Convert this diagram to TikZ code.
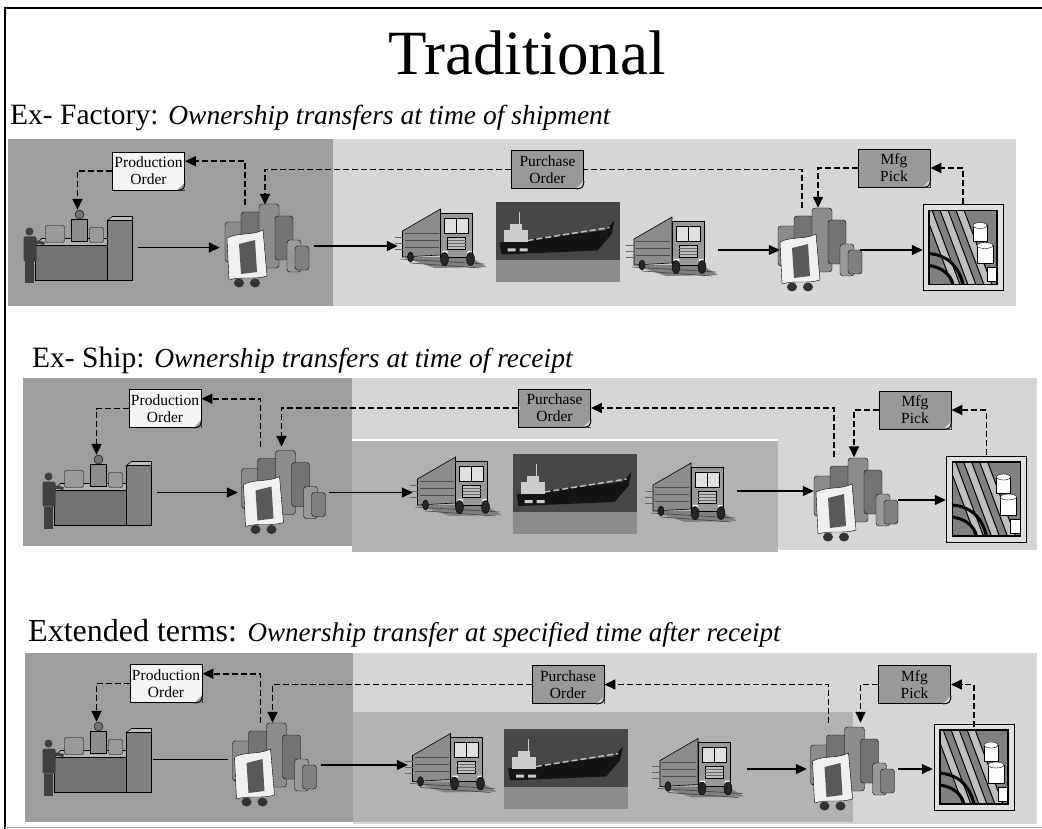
\documentclass[tikz,border=0pt]{standalone}
\usepackage{fontspec}
\setmainfont{Liberation Serif}
\usetikzlibrary{arrows.meta, positioning, calc}

\definecolor{darkpanel}{gray}{0.62}
\definecolor{midpanel}{gray}{0.70}
\definecolor{lightpanel}{gray}{0.84}
\definecolor{docgray}{gray}{0.60}
\definecolor{docwhite}{gray}{0.96}

% folded corner of a document box
\newcommand{\docfold}[2]{%
  \fill[#2] ([xshift=-8pt]#1.south east) -- (#1.south east) -- ([yshift=8pt]#1.south east) -- cycle;
  \draw[line width=1pt] ([xshift=-8pt]#1.south east) .. controls ([xshift=-1pt,yshift=1pt]#1.south east) .. ([yshift=8pt]#1.south east);}

\begin{document}
\begin{tikzpicture}[x=1pt, y=-1pt,
    flow/.style={line width=1.4pt, shorten <=4pt, -{Triangle[length=11pt,width=10pt]}},
    link/.style={line width=1.6pt, dash pattern=on 6pt off 3pt},
    linkto/.style={link, -{Triangle[length=11pt,width=10pt]}},
    doc/.style={draw, line width=0.9pt, fill=#1, inner sep=0pt, minimum width=72pt,
      minimum height=38pt, align=center, font=\fontsize{15.5}{17}\selectfont},
    icon/.style 2 args={minimum width=#1, minimum height=#2, inner sep=0pt},
    % supplier plant
    factory/.pic={
      \filldraw[fill=black!55, line width=0.6pt] (-42,-2) rectangle (38,33);
      \filldraw[fill=black!30, line width=0.6pt] (-42,-2) -- (-36,-9) -- (32,-9) -- (38,-2) -- cycle;
      \filldraw[fill=black!50, line width=0.6pt] (30,-27) rectangle (55,33);
      \filldraw[fill=black!25, line width=0.6pt] (30,-27) -- (35,-31) -- (55,-31) -- (55,-27) -- cycle;
      \filldraw[fill=black!40, rounded corners=2pt] (-32,-22) rectangle (-13,-5);
      \filldraw[fill=black!40, rounded corners=2pt] (12,-20) rectangle (26,-5);
      \filldraw[fill=black!45] (-6,-28) rectangle (10,-6);
      \filldraw[fill=black!55] (2,-33) circle (4.5pt);
      \fill[black!75] (-48,-16) circle (4pt);
      \fill[black!75, rounded corners=1.5pt] (-54,-11) rectangle (-41,14);
      \fill[black!75] (-53,14) rectangle (-44,36);
      \draw[black!75, line width=3pt] (-43,-6) -- (-33,-4);
    },
    % stock of goods
    stock/.pic={
      \filldraw[fill=black!45, rounded corners=3pt] (-40,-24) rectangle (-20,16);
      \filldraw[fill=black!55, rounded corners=3pt] (-24,-34) rectangle (-4,8);
      \filldraw[fill=black!45, rounded corners=3pt] (-6,-42) rectangle (14,22);
      \filldraw[fill=black!55, rounded corners=3pt] (10,-30) rectangle (28,14);
      \filldraw[fill=black!40, rounded corners=3pt] (22,-6) rectangle (36,26);
      \filldraw[fill=black!50, rounded corners=3pt] (30,0) rectangle (44,24);
      \filldraw[fill=black!6] (-38,-8) .. controls (-26,-14) and (-14,-10) .. (-2,-16)
        -- (2,30) .. controls (-10,34) and (-24,30) .. (-36,34) -- cycle;
      \fill[black!65] (-26,-2) -- (-10,-6) -- (-8,26) -- (-24,28) -- cycle;
      \fill[black!80] (-26,37) ellipse (5pt and 4.5pt) (-10,37) ellipse (5pt and 4.5pt);
    },
    % truck
    truck/.pic={
      \fill[black!50] (-38,20) -- (30,20) -- (46,30) -- (-6,31) -- cycle;
      \draw[black!75, line width=0.6pt] (-40,22) -- (44,27) (-30,26) -- (40,31);
      \filldraw[fill=black!45, line width=0.6pt] (-38,-6) -- (0,-28) -- (0,18) -- (-38,20) -- cycle;
      \foreach \v in {-4,3,10} \draw[black!70] (-36,\v) -- (-2,\v);
      \foreach \v in {0,6,12} \draw[black!60] (-46,\v) -- (-38,\v);
      \filldraw[fill=black!40, line width=0.6pt] (0,-24) rectangle (32,20);
      \filldraw[fill=black!12] (4,-19) rectangle (28,-4);
      \draw (16,-19) -- (16,-4);
      \filldraw[fill=black!25] (7,0) rectangle (25,12);
      \foreach \v in {3,6,9} \draw[black!60] (7,\v) -- (25,\v);
      \fill[white] (2,14) rectangle (7,17) (27,14) rectangle (31,17);
      \filldraw[fill=black!85] (4,22) ellipse (4pt and 6.5pt);
      \filldraw[fill=black!85] (30,22) ellipse (4pt and 6.5pt);
      \filldraw[fill=black!85] (-30,20) ellipse (3pt and 5pt);
    },
    % ship at sea
    ship/.pic={
      \fill[black!72] (-62,-40) rectangle (62,40);
      \fill[black!45] (-62,18) rectangle (62,40);
      \fill[black!92] (-58,0) -- (48,-12) -- (57,-22) -- (54,-8) -- (40,8) -- (-56,12) -- cycle;
      \draw[black!25, line width=1.5pt, dash pattern=on 6pt off 3pt] (-30,-2) -- (52,-15);
      \fill[black!20] (-54,-12) rectangle (-30,0);
      \fill[black!20] (-48,-18) rectangle (-36,-12);
      \draw[black!20, line width=1pt] (-38,-18) -- (-38,-30);
      \fill[black!20] (-50,6) rectangle (-42,9) (-38,6) rectangle (-30,9);
    },
    % manufacturing line
    glass/.pic={
      \filldraw[fill=black!12, line width=1pt] (-40,-43) rectangle (40,43);
      \begin{scope}
        \clip (-34,-37) rectangle (34,37);
        \fill[black!50] (-34,-37) rectangle (34,37);
        \foreach \s in {-40,-24,-8}
          \filldraw[fill=black!25, line width=1pt] (\s,-40) -- (\s+8,-40) -- (\s+38,40) -- (\s+30,40) -- cycle;
        \draw[line width=3pt] (-34,6) .. controls (-14,8) and (-4,20) .. (0,37);
        \draw[line width=3pt] (-34,18) .. controls (-20,20) and (-12,28) .. (-10,37);
        \filldraw[fill=white] (10,-22) rectangle (24,-6);
        \filldraw[fill=white] (17,-22) ellipse (7pt and 3pt);
        \filldraw[fill=white] (14,-2) rectangle (30,16);
        \filldraw[fill=white] (22,-2) ellipse (8pt and 3pt);
        \filldraw[fill=white] (24,20) rectangle (34,34);
      \end{scope}
      \draw[line width=1.8pt] (-34,-37) rectangle (34,37);
    }]
\useasboundingbox (0,0) rectangle (1042,829);

% Frame
\draw[line width=2pt] (5,829) -- (5,8) -- (1042,8);
\draw[black!35] (5,827) -- (1042,827);

% Title and headings
\node[anchor=base, font=\fontsize{63}{70}\selectfont] (title) at (527,75) {Traditional};
\node[anchor=base west, inner sep=0pt] (head1) at (10,125)
  {{\fontsize{29.5}{32}\selectfont Ex- Factory: }{\fontsize{27.5}{30}\selectfont\itshape Ownership transfers at time of shipment}};
\node[anchor=base west, inner sep=0pt] (head2) at (32,367)
  {{\fontsize{29.5}{32}\selectfont Ex- Ship: }{\fontsize{27.5}{30}\selectfont\itshape Ownership transfers at time of receipt}};
\node[anchor=base west, inner sep=0pt] (head3) at (28,641)
  {{\fontsize{32}{34}\selectfont Extended terms: }{\fontsize{27}{30}\selectfont\itshape Ownership transfer at specified time after receipt}};

% Row 1: Ex- Factory
\fill[lightpanel] (8,139) rectangle (1016,306);
\fill[darkpanel] (8,139) rectangle (333,306);
\node[icon={113pt}{75pt}] (sup1) at (77.5,247.5) {};
\node[icon={90pt}{82pt}] (out1) at (265,246) {};
\node[icon={85pt}{60pt}] (trk1a) at (440.5,237) {};
\node[icon={125pt}{79pt}] (ship1) at (557.5,242.5) {};
\node[icon={84pt}{62pt}] (trk1b) at (672,245) {};
\node[icon={76pt}{84pt}] (in1) at (818,250) {};
\node[icon={80pt}{87pt}] (line1) at (963,247.5) {};

% Row 2: Ex- Ship
\fill[lightpanel] (352,378) rectangle (1037,550);
\fill[darkpanel] (23,378) rectangle (352,546);
\fill[midpanel] (352,440) rectangle (778,552);
\draw[white, line width=1.5pt] (352,440) -- (778,440);
\node[icon={113pt}{75pt}] (sup2) at (96.5,492.5) {};
\node[icon={87pt}{91pt}] (out2) at (281.5,492.5) {};
\node[icon={85pt}{64pt}] (trk2a) at (455.5,485) {};
\node[icon={125pt}{82pt}] (ship2) at (574.5,494) {};
\node[icon={84pt}{66pt}] (trk2b) at (691,491) {};
\node[icon={80pt}{85pt}] (in2) at (854,500) {};
\node[icon={81pt}{88pt}] (line2) at (986.5,499) {};

% Row 3: Extended terms
\fill[lightpanel] (353,653) rectangle (1037,824);
\fill[darkpanel] (25,653) rectangle (353,822);
\fill[midpanel] (353,712) rectangle (853,822);
\node[icon={113pt}{75pt}] (sup3) at (96.5,759.5) {};
\node[icon={89pt}{84pt}] (out3) at (272.5,765) {};
\node[icon={85pt}{63pt}] (trk3a) at (450.5,761.5) {};
\node[icon={126pt}{83pt}] (ship3) at (566,768.5) {};
\node[icon={90pt}{59pt}] (trk3b) at (698,766.5) {};
\node[icon={87pt}{92pt}] (in3) at (850.5,769) {};
\node[icon={82pt}{80pt}] (line3) at (974,767) {};

% Pictures
\foreach \n/\p in {sup1/factory, out1/stock, trk1a/truck, ship1/ship, trk1b/truck, in1/stock, line1/glass,
                   sup2/factory, out2/stock, trk2a/truck, ship2/ship, trk2b/truck, in2/stock, line2/glass,
                   sup3/factory, out3/stock, trk3a/truck, ship3/ship, trk3b/truck, in3/stock, line3/glass}
  \pic at (\n) {\p};

% Documents
\node[doc=docwhite] (prod1) at (148.5,171) {Production\\Order};
\node[doc=docgray] (pur1) at (547.5,169.5) {Purchase\\Order};
\node[doc=docgray] (mfg1) at (894,168) {Mfg\\Pick};
\node[doc=docwhite] (prod2) at (165,408.5) {Production\\Order};
\node[doc=docgray] (pur2) at (554.5,408) {Purchase\\Order};
\node[doc=docgray] (mfg2) at (915,410) {Mfg\\Pick};
\node[doc=docwhite] (prod3) at (166,683.5) {Production\\Order};
\node[doc=docgray] (pur3) at (568,684.5) {Purchase\\Order};
\node[doc=docgray] (mfg3) at (914.5,684.5) {Mfg\\Pick};
\docfold{prod1}{darkpanel}\docfold{pur1}{lightpanel}\docfold{mfg1}{lightpanel}
\docfold{prod2}{darkpanel}\docfold{pur2}{lightpanel}\docfold{mfg2}{lightpanel}
\docfold{prod3}{darkpanel}\docfold{pur3}{lightpanel}\docfold{mfg3}{lightpanel}

% Flow of goods
\draw[flow] (sup1.east) -- (sup1.east -| out1.west);
\draw[flow] (out1.east) -- (out1.east -| trk1a.west);
\draw[flow] (trk1b.east |- in1.west) -- (in1.west);
\draw[flow] (in1.east) -- (in1.east -| line1.west);
\draw[flow] (sup2.east) -- (sup2.east -| out2.west);
\draw[flow] (out2.east) -- (out2.east -| trk2a.west);
\draw[flow] (trk2b.east) -- (trk2b.east -| in2.west);
\draw[flow] (in2.east) -- (in2.east -| line2.west);
\draw[line width=1.4pt] (sup3.east) -- (sup3.east -| out3.west);
\draw[flow] (out3.east) -- (out3.east -| trk3a.west);
\draw[flow] (trk3b.east |- in3.west) -- (in3.west);
\draw[flow] (in3.east) -- (in3.east -| line3.west);

% Flow of orders
\draw[linkto] (prod1.west) -| (sup1.north);
\draw[linkto] ([xshift=-20pt]out1.north) |- (prod1.15);
\draw[linkto] (pur1.west) -| (out1.north);
\draw[link] ([xshift=-16pt]in1.north) |- (pur1.east);
\draw[linkto] (mfg1.west) -| (in1.north);
\draw[linkto] (line1.north) |- (mfg1.east);

\draw[linkto] (prod2.west) -| (sup2.north);
\draw[linkto] ([xshift=-21pt]out2.north) |- (prod2.15);
\draw[linkto] (pur2.west) -| (out2.north);
\draw[linkto] ([xshift=-20pt]in2.north) |- (pur2.east);
\draw[linkto] (mfg2.west) -| (in2.north);
\draw[linkto] (line2.north) |- (mfg2.east);

\draw[linkto] (prod3.west) -| (sup3.north);
\draw[linkto] ([xshift=-12pt]out3.north) |- (prod3.15);
\draw[linkto] (pur3.west) -| (out3.north);
\draw[linkto] ([xshift=-22pt]in3.north) |- (pur3.east);
\draw[linkto] (mfg3.west) -| ([xshift=10pt]in3.north);
\draw[linkto] (line3.north) |- (mfg3.east);
\end{tikzpicture}
\end{document}
